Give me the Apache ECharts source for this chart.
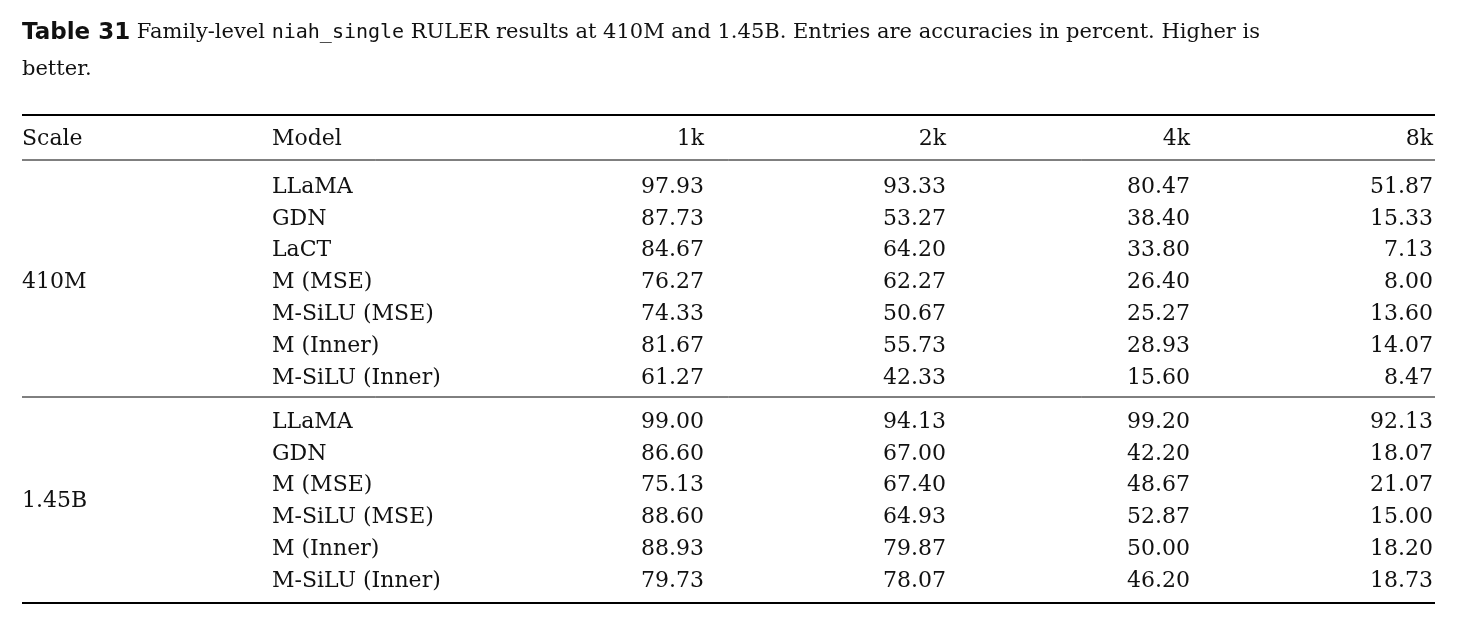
<!DOCTYPE html>
<html><head><meta charset="utf-8">
<script src="https://cdn.jsdelivr.net/npm/echarts@6/dist/echarts.min.js"></script>
<style>html,body{margin:0;padding:0;background:#fff}#c{width:1457px;height:623px}</style>
</head><body><div id="c"></div>
<script>
const headers = ["Scale","Model","1k","2k","4k","8k"];
const scales = ["410M","1.45B"];
const models410 = ["LLaMA","GDN","LaCT","M (MSE)","M-SiLU (MSE)","M (Inner)","M-SiLU (Inner)"];
const values410 = [
 ["97.93","93.33","80.47","51.87"],
 ["87.73","53.27","38.40","15.33"],
 ["84.67","64.20","33.80","7.13"],
 ["76.27","62.27","26.40","8.00"],
 ["74.33","50.67","25.27","13.60"],
 ["81.67","55.73","28.93","14.07"],
 ["61.27","42.33","15.60","8.47"]];
const models145 = ["LLaMA","GDN","M (MSE)","M-SiLU (MSE)","M (Inner)","M-SiLU (Inner)"];
const values145 = [
 ["99.00","94.13","99.20","92.13"],
 ["86.60","67.00","42.20","18.07"],
 ["75.13","67.40","48.67","21.07"],
 ["88.60","64.93","52.87","15.00"],
 ["88.93","79.87","50.00","18.20"],
 ["79.73","78.07","46.20","18.73"]];

const F = "'DejaVu Serif', serif", FS = 22, C = "#111";
const colX = [22, 272, 704, 946, 1190, 1433];
const els = [];
function txt(s, x, y, align){ els.push({type:'text', style:{text:s, x:x, y:y, fill:C, font:FS+'px '+F, textAlign:align||'left', textVerticalAlign:'middle'}}); }
function rule(y, w){ els.push({type:'line', shape:{x1:22,y1:y,x2:1435,y2:y}, style:{stroke:'#000', lineWidth:w}}); }

els.push({type:'text', style:{x:22, y:33, textVerticalAlign:'middle',
  text:'{b|Table 31}  {n|Family-level }{m|niah_single}{n| RULER results at 410M and 1.45B. Entries are accuracies in percent. Higher is}',
  rich:{b:{font:'bold 23px "DejaVu Sans"', fill:C}, n:{font:'21px '+F, fill:C}, m:{font:'20px "DejaVu Sans Mono"', fill:C}}}});
els.push({type:'text', style:{text:'better.', x:22, y:70, fill:C, font:'21px '+F, textVerticalAlign:'middle'}});

rule(115, 2);
headers.forEach((h,i)=>txt(h, colX[i], 139, i<2?'left':'right'));
rule(160, 1);
function block(models, vals, y0, scale){
  const step = 31.8;
  models.forEach((m,r)=>{
    const y = y0 + r*step;
    txt(m, colX[1], y);
    vals[r].forEach((v,c)=>txt(v, colX[c+2], y, 'right'));
  });
  txt(scale, colX[0], y0 + (models.length-1)*step/2);
}
block(models410, values410, 187, scales[0]);
rule(397, 1);
block(models145, values145, 422, scales[1]);
rule(603, 2);

const chart = echarts.init(document.getElementById('c'));
chart.setOption({animation:false, graphic:{elements:els}});
</script></body></html>
